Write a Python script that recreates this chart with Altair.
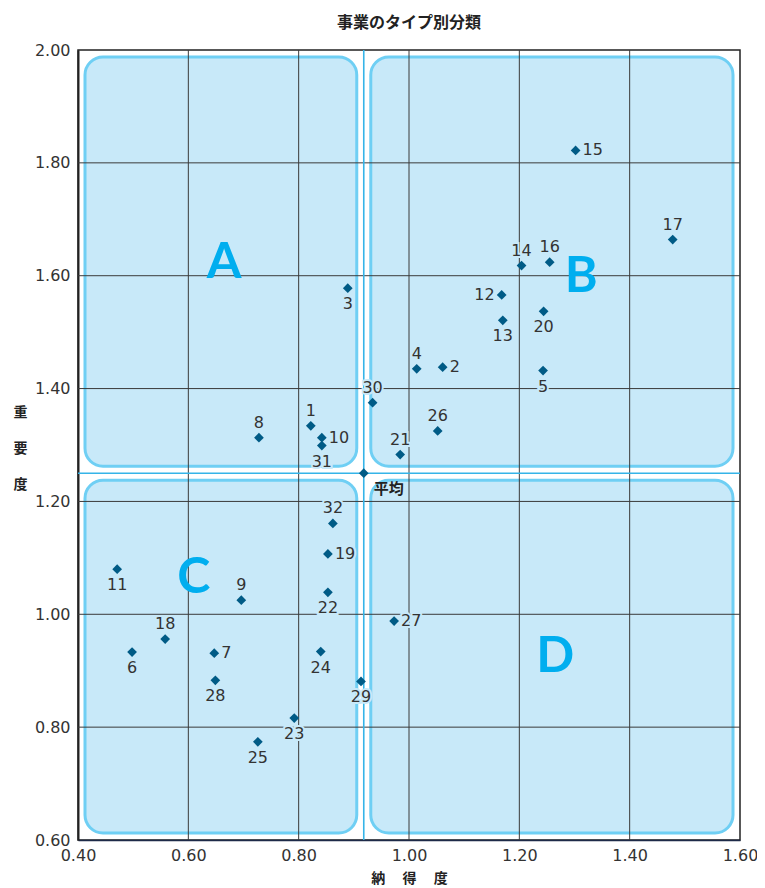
import altair as alt
import pandas as pd

# ---- data ----
ids = list(range(1, 33))
x_vals = [0.822, 1.061, 0.889, 1.014, 1.243, 0.498, 0.647, 0.728, 0.696, 0.842,
          0.471, 1.168, 1.170, 1.204, 1.302, 1.255, 1.478, 0.558, 0.853, 1.244,
          0.984, 0.853, 0.792, 0.840, 0.726, 1.052, 0.973, 0.649, 0.913, 0.934,
          0.842, 0.862]
y_vals = [1.334, 1.438, 1.578, 1.435, 1.432, 0.933, 0.931, 1.313, 1.025, 1.313,
          1.080, 1.566, 1.521, 1.618, 1.822, 1.624, 1.664, 0.956, 1.107, 1.537,
          1.283, 1.039, 0.816, 0.934, 0.774, 1.325, 0.988, 0.883, 0.881, 1.375,
          1.299, 1.161]
avg_x = 0.918
avg_y = 1.25
avg_label = "平均"

x_ticks = [0.4, 0.6, 0.8, 1.0, 1.2, 1.4, 1.6]
y_ticks = [0.6, 0.8, 1.0, 1.2, 1.4, 1.6, 1.8, 2.0]
x_min, x_max = 0.4, 1.6
y_min, y_max = 0.6, 2.0

quad_names = ["A", "B", "C", "D"]
quad_text_x = [0.665, 1.312, 0.610, 1.265]
quad_text_y = [1.622, 1.598, 1.064, 0.924]

title_text = "事業のタイプ別分類"
x_title = "納　  得　  度"
y_title = ["重", "要", "度"]

# label placement around each point
label_side = {
    "above": [1, 4, 8, 9, 14, 16, 17, 18, 21, 26, 30, 32],
    "below": [3, 5, 6, 11, 13, 20, 22, 23, 24, 25, 28, 29, 31],
    "right": [2, 7, 10, 15, 19, 27],
    "left": [12],
}
side_of = {i: s for s, lst in label_side.items() for i in lst}

pts = pd.DataFrame({"id": ids, "x": x_vals, "y": y_vals,
                    "side": [side_of[i] for i in ids]})
pts["label"] = pts["id"].astype(str)

boxes = pd.DataFrame({
    "q": quad_names,
    "x": [x_min, avg_x, x_min, avg_x],
    "x2": [avg_x, x_max, avg_x, x_max],
    "y": [y_max, y_max, avg_y, avg_y],
    "y2": [avg_y, avg_y, y_min, y_min],
})
quads = pd.DataFrame({"q": quad_names, "x": quad_text_x, "y": quad_text_y})
avg_df = pd.DataFrame({"x": [avg_x], "y": [avg_y], "t": [avg_label]})
gx = pd.DataFrame({"v": x_ticks[1:-1]})
gy = pd.DataFrame({"v": y_ticks[1:-1]})

FILL = "#c8e9f9"
STROKE = "#6fcff4"
AVG = "#35b4e8"
PT = "#005b86"
NUMFONT = "DejaVu Sans"
JPFONT = "Noto Sans CJK JP"

xs = alt.Scale(domain=[x_min, x_max], nice=False, zero=False)
ys = alt.Scale(domain=[y_min, y_max], nice=False, zero=False)

x_axis = alt.Axis(values=x_ticks, format=".2f", grid=False, ticks=False,
                  labelFlush=False, labelOverlap=False,
                  labelFont=NUMFONT, labelFontSize=16, labelColor="#333",
                  labelPadding=7, domainColor="#1d2a48", domainWidth=1.5,
                  title=x_title, titleFont=JPFONT, titleFontSize=14,
                  titleFontWeight="bold", titleColor="#222", titlePadding=8)
y_axis = alt.Axis(values=y_ticks, format=".2f", grid=False, ticks=False,
                  labelFlush=False, labelOverlap=False,
                  labelFont=NUMFONT, labelFontSize=16, labelColor="#333",
                  labelPadding=8, domainColor="#222", domainWidth=2,
                  title=y_title, titleFont=JPFONT, titleFontSize=14,
                  titleFontWeight="bold", titleColor="#222", titleAngle=0,
                  titleLineHeight=36, titleX=-58, titleY=355,
                  titleAlign="center", titleBaseline="top")

box_layer = alt.Chart(boxes).mark_rect(
    cornerRadius=18, fill=FILL, stroke=STROKE, strokeWidth=3,
    xOffset=7, x2Offset=-7, yOffset=7, y2Offset=-7
).encode(
    x=alt.X("x:Q", scale=xs, axis=x_axis),
    x2="x2:Q",
    y=alt.Y("y:Q", scale=ys, axis=y_axis),
    y2="y2:Q",
)

grid_x = alt.Chart(gx).mark_rule(color="#3a3a3a", strokeWidth=1).encode(
    x=alt.X("v:Q", scale=xs))
grid_y = alt.Chart(gy).mark_rule(color="#3a3a3a", strokeWidth=1).encode(
    y=alt.Y("v:Q", scale=ys))

avg_v = alt.Chart(avg_df).mark_rule(color=AVG, strokeWidth=1.6).encode(
    x=alt.X("x:Q", scale=xs))
avg_h = alt.Chart(avg_df).mark_rule(color=AVG, strokeWidth=1.6).encode(
    y=alt.Y("y:Q", scale=ys))

side_style = {
    "above": dict(align="center", baseline="middle", dx=0, dy=-15),
    "below": dict(align="center", baseline="middle", dx=0, dy=16),
    "right": dict(align="left", baseline="middle", dx=7, dy=0),
    "left": dict(align="right", baseline="middle", dx=-7, dy=0),
}

label_layers = []
for side, st in side_style.items():
    base = alt.Chart(pts).transform_filter(alt.datum.side == side)
    halo = base.mark_text(font=NUMFONT, fontSize=16, fill=FILL, stroke=FILL,
                          strokeWidth=4, **st).encode(
        x=alt.X("x:Q", scale=xs), y=alt.Y("y:Q", scale=ys), text="label:N")
    txt = base.mark_text(font=NUMFONT, fontSize=16, color="#333", **st).encode(
        x=alt.X("x:Q", scale=xs), y=alt.Y("y:Q", scale=ys), text="label:N")
    label_layers += [halo, txt]

points = alt.Chart(pts).mark_point(shape="diamond", filled=True, size=95,
                                   color=PT, opacity=1).encode(
    x=alt.X("x:Q", scale=xs), y=alt.Y("y:Q", scale=ys))
avg_pt = alt.Chart(avg_df).mark_point(shape="diamond", filled=True, size=95,
                                      color=PT, opacity=1).encode(
    x=alt.X("x:Q", scale=xs), y=alt.Y("y:Q", scale=ys))
avg_txt = alt.Chart(avg_df).mark_text(font=JPFONT, fontSize=15,
                                      fontWeight="bold", color="#222",
                                      align="left", baseline="middle",
                                      dx=10, dy=16).encode(
    x=alt.X("x:Q", scale=xs), y=alt.Y("y:Q", scale=ys), text="t:N")

quad_txt = alt.Chart(quads).mark_text(font="Lato", fontSize=50,
                                      fontWeight="bold", color="#00aeef",
                                      align="center", baseline="middle").encode(
    x=alt.X("x:Q", scale=xs), y=alt.Y("y:Q", scale=ys), text="q:N")

chart = alt.layer(
    box_layer, grid_x, grid_y, avg_v, avg_h, *label_layers,
    points, avg_pt, avg_txt, quad_txt
).properties(
    width=662, height=790,
    autosize=alt.AutoSizeParams(type="none"),
    padding={"left": 70, "top": 42, "right": 17, "bottom": 48},
    title=alt.TitleParams(title_text, font=JPFONT, fontSize=16,
                          fontWeight="bold", color="#222", anchor="middle",
                          offset=11),
).configure_view(
    stroke="#222", strokeWidth=1.5
)

chart.save("out.html", embed_options={"renderer": "svg", "actions": False})
